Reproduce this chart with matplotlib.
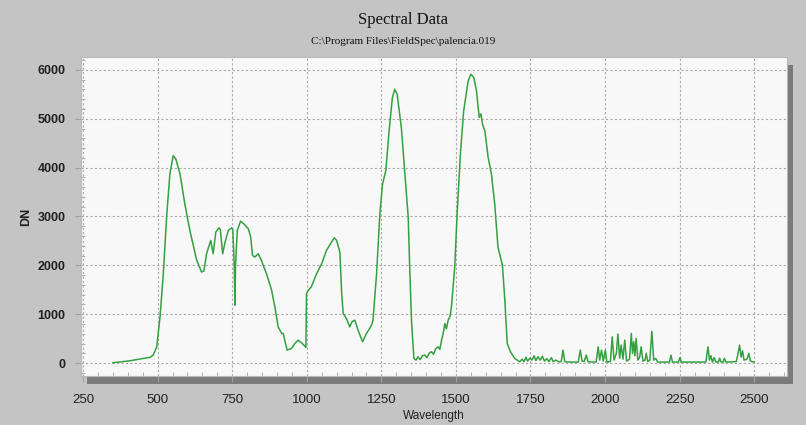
import matplotlib
matplotlib.use("Agg")
import matplotlib.pyplot as plt
from matplotlib.patches import Rectangle
from matplotlib.ticker import MultipleLocator

# ---- data ----
wavelength = [350, 407, 452, 474, 485, 497, 508, 519, 530, 541, 552, 561, 575, 591, 608,
              631, 647, 655, 664, 678, 686, 695, 706, 710, 718, 726, 737, 748, 752, 757,
              759, 761, 767, 778, 789, 804, 812, 818, 826, 837, 848, 854, 865, 882, 893,
              904, 916, 921, 934, 949, 960, 971, 985, 997, 999, 1005, 1015, 1033, 1050,
              1066, 1083, 1092, 1100, 1111, 1117, 1122, 1133, 1144, 1152, 1161, 1172,
              1187, 1200, 1210, 1217, 1222, 1234, 1245, 1254, 1265, 1276, 1287, 1295,
              1303, 1317, 1328, 1340, 1345, 1351, 1359, 1366, 1373, 1380, 1388, 1396,
              1403, 1410, 1418, 1425, 1432, 1440, 1446, 1452, 1457, 1463, 1468, 1474,
              1480, 1485, 1496, 1504, 1515, 1526, 1541, 1550, 1560, 1569, 1578, 1584,
              1589, 1597, 1608, 1619, 1630, 1641, 1656, 1664, 1672, 1683, 1697, 1714,
              1722, 1728, 1735, 1740, 1748, 1755, 1762, 1768, 1775, 1782, 1790, 1797,
              1805, 1812, 1820, 1826, 1835, 1845, 1853, 1859, 1865, 1880, 1910, 1917,
              1923, 1930, 1937, 1943, 1970, 1977, 1982, 1988, 1994, 2001, 2006, 2018,
              2024, 2030, 2038, 2043, 2049, 2054, 2060, 2066, 2072, 2082, 2088, 2092,
              2096, 2100, 2104, 2110, 2116, 2121, 2127, 2134, 2138, 2143, 2150, 2157,
              2163, 2170, 2176, 2216, 2221, 2226, 2246, 2251, 2256, 2338, 2345, 2350,
              2355, 2360, 2366, 2371, 2380, 2384, 2389, 2396, 2400, 2405, 2440, 2446,
              2451, 2456, 2461, 2466, 2476, 2482, 2487, 2492, 2500]
dn = [6, 47, 95, 116, 163, 333, 945, 1830, 2986, 3871, 4245, 4176, 3871, 3259, 2714,
      2102, 1864, 1884, 2238, 2510, 2238, 2680, 2769, 2735, 2238, 2476, 2714, 2769, 2735, 1966,
      1184, 2000, 2714, 2905, 2850, 2749, 2578, 2204, 2170, 2238, 2102, 2000, 1830, 1490, 1150,
      741, 605, 605, 265, 299, 401, 469, 401, 320, 1422, 1490, 1558, 1830, 2034,
      2306, 2476, 2565, 2510, 2270, 1422, 1014, 912, 741, 850, 878, 673,
      435, 605, 700, 776, 878, 1830, 3055, 3667, 3939, 4755, 5435, 5605,
      5503, 4823, 3939, 2986, 1966, 878, 95, 60, 129, 70, 150, 163,
      110, 200, 231, 180, 290, 333, 280, 469, 600, 810, 700, 878,
      950, 1150, 1966, 3055, 4279, 5163, 5775, 5912, 5843, 5571, 5027, 5100,
      4891, 4755, 4210, 3871, 3259, 2374, 2000, 1286, 401, 231, 95, 27,
      80, 30, 120, 40, 100, 60, 150, 50, 130, 60, 140, 40,
      90, 30, 110, 30, 60, 25, 30, 265, 25, 20, 20, 265,
      40, 30, 163, 25, 20, 333, 60, 265, 40, 265, 20, 30,
      537, 60, 200, 592, 100, 370, 80, 469, 40, 80, 605, 200,
      435, 150, 503, 60, 120, 333, 40, 60, 200, 30, 60, 650,
      60, 95, 20, 20, 163, 20, 20, 110, 20, 20, 333, 60,
      150, 20, 110, 20, 20, 100, 20, 20, 100, 20, 30, 200,
      367, 120, 250, 60, 80, 200, 50, 30, 20]

x_ticks = [250, 500, 750, 1000, 1250, 1500, 1750, 2000, 2250, 2500]
y_ticks = [0, 1000, 2000, 3000, 4000, 5000, 6000]

title = "Spectral Data"
subtitle = "C:\\Program Files\\FieldSpec\\palencia.019"

# ---- figure ----
W, H = 806, 425
fig = plt.figure(figsize=(W / 100, H / 100), dpi=100, facecolor="#c4c4c4")

L, R, T, B = 80.7, 787.0, 57.0, 376.0
ax_rect = [L / W, (H - B) / H, (R - L) / W, (B - T) / H]
shadow = Rectangle(((L + 6) / W, (H - B - 8) / H), (R - L) / W, (B - T) / H,
                   transform=fig.transFigure, facecolor="#7b7b7b", edgecolor="none", zorder=-1)
fig.add_artist(shadow)

ax = fig.add_axes(ax_rect)
ax.set_facecolor("#f8f8f8")
ax.plot(wavelength, dn, color="#35a042", lw=1.1, zorder=3)

ax.set_xlim(242, 2610)
ax.set_ylim(-265, 6265)
ax.set_xticks(x_ticks)
ax.set_yticks(y_ticks)
ax.xaxis.set_minor_locator(MultipleLocator(50))
ax.yaxis.set_minor_locator(MultipleLocator(200))

ax.grid(True, which="major", color="#a9a9a9", linestyle=(0, (2, 2)), lw=0.8)
ax.tick_params(which="major", direction="out", length=4, color="#a0a0a0", width=0.8)
ax.tick_params(which="minor", direction="in", length=3, color="#b0b0b0", width=0.7)
ax.tick_params(axis="x", which="major", pad=9)
ax.tick_params(axis="y", which="major", pad=7)

for s in ax.spines.values():
    s.set_color("#b8b8b8")
    s.set_linewidth(0.8)

sans = ["Liberation Sans", "DejaVu Sans"]
for lab in ax.get_xticklabels():
    lab.set_family(sans)
    lab.set_fontsize(9.5)
    lab.set_color("#202020")
for lab in ax.get_yticklabels():
    lab.set_family(sans)
    lab.set_fontweight("bold")
    lab.set_fontsize(9)
    lab.set_color("#202020")

ax.set_ylabel("DN", family=sans, fontweight="bold",
              fontsize=9, color="#202020", labelpad=4)
fig.text((L + R) / 2 / W, 1 - 416 / H, "Wavelength", ha="center", va="center",
         family=sans, fontsize=8.5, color="#202020")

fig.text(0.5, 1 - 20 / H, title, ha="center", va="center",
         family=["Liberation Serif", "DejaVu Serif"], fontsize=12, color="#111111")
fig.text(0.5, 1 - 41 / H, subtitle, ha="center", va="center",
         family=["Liberation Serif", "DejaVu Serif"], fontsize=8, color="#111111")

fig.savefig("out.png", dpi=100, facecolor=fig.get_facecolor())
